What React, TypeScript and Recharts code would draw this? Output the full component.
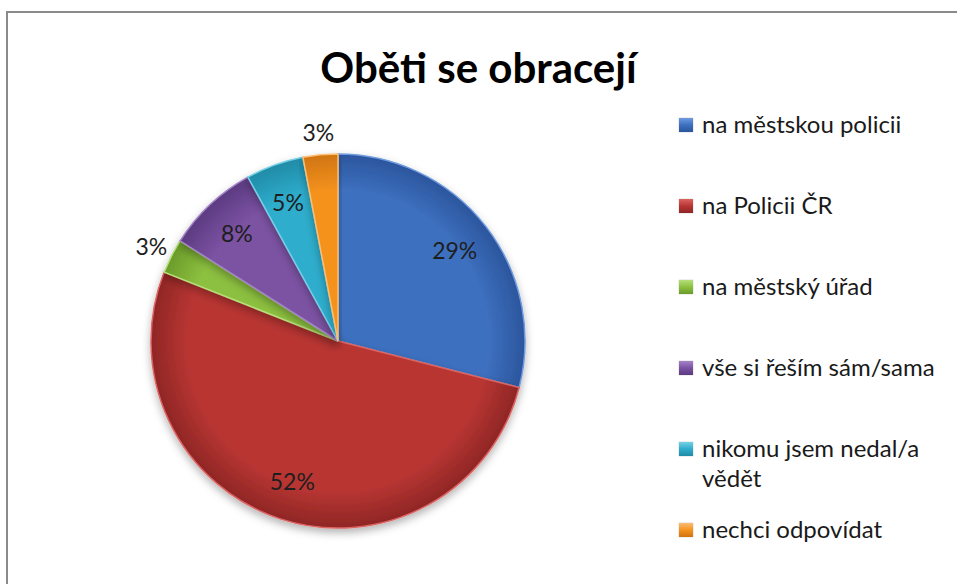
import { PieChart, Pie, Cell, Legend } from 'recharts';

// Oběti se obracejí — podíl odpovědí v procentech
const categories = [
  'na městskou policii',
  'na Policii ČR',
  'na městský úřad',
  'vše si řeším sám/sama',
  'nikomu jsem nedal/a vědět',
  'nechci odpovídat',
];
const values = [29, 52, 3, 8, 5, 3];
const colors = ['#3d70bf', '#b83532', '#8cc03f', '#7b52a3', '#2fadcc', '#f4921f'];
const lightColors = ['#6f9ae0', '#dc6461', '#b5e07a', '#a383c8', '#74d0e6', '#fbbd72'];
const darkColors = ['#2b559c', '#8e2625', '#6a9a2a', '#5b3a80', '#1f8aa6', '#cf7410'];

const data = categories.map((name, i) => ({ name, value: values[i] }));

const RADIAN = Math.PI / 180;
const FONT = 'Lato, "Open Sans", sans-serif';

function renderLabel(props: any) {
  const { cx, cy, midAngle, outerRadius, value } = props;
  const r = value < 4 ? outerRadius * 1.12 : outerRadius * 0.79;
  const x = cx + r * Math.cos(-midAngle * RADIAN);
  const y = cy + r * Math.sin(-midAngle * RADIAN);
  return (
    <text
      x={x}
      y={y}
      fill="#1e1e1e"
      fontFamily={FONT}
      fontSize={23}
      textAnchor="middle"
      dominantBaseline="central"
    >
      {value}%
    </text>
  );
}

function renderLegend() {
  return (
    <div style={{ fontFamily: FONT, fontSize: 24, color: '#1a1a1a' }}>
      {categories.map((name, i) => (
        <div key={name} style={{ display: 'flex', alignItems: 'flex-start', height: 81 }}>
          <div
            style={{
              width: 14,
              height: 14,
              marginTop: 9,
              marginRight: 9,
              flex: 'none',
              background: `linear-gradient(${lightColors[i]}, ${colors[i]} 50%, ${darkColors[i]})`,
              boxShadow: '0 0 1px rgba(0,0,0,0.4)',
            }}
          />
          <div style={{ width: 250, lineHeight: '30px' }}>{name}</div>
        </div>
      ))}
    </div>
  );
}

export default function App() {
  return (
    <div style={{ position: 'absolute', left: 0, top: 0, width: 957, height: 584, background: '#fff', overflow: 'hidden' }}>
      <div
        style={{
          position: 'absolute',
          left: 6,
          top: 11,
          width: 1000,
          height: 700,
          border: '2px solid #8a8a8a',
          boxSizing: 'border-box',
        }}
      />
      <div
        style={{
          position: 'absolute',
          left: 0,
          top: 42,
          width: 957,
          textAlign: 'center',
          fontFamily: FONT,
          fontWeight: 700,
          fontSize: 42,
          color: '#000',
        }}
      >
        Oběti se obracejí
      </div>
      <div style={{ position: 'absolute', left: 0, top: 0 }}>
        <PieChart width={957} height={584} margin={{ top: 0, right: 0, bottom: 0, left: 0 }}>
          <defs>
            {colors.map((c, i) => (
              <radialGradient key={c} id={`g${i}`} cx={338} cy={341} r={188} gradientUnits="userSpaceOnUse">
                <stop offset="0%" stopColor={colors[i]} />
                <stop offset="80%" stopColor={colors[i]} />
                <stop offset="100%" stopColor={darkColors[i]} />
              </radialGradient>
            ))}
            <filter id="shadow" x="-10%" y="-10%" width="120%" height="125%">
              <feDropShadow dx="0" dy="4" stdDeviation="4" floodColor="#000" floodOpacity="0.3" />
            </filter>
          </defs>
          <Pie
            data={data}
            dataKey="value"
            nameKey="name"
            cx={338}
            cy={341}
            outerRadius={187}
            startAngle={90}
            endAngle={-270}
            label={renderLabel}
            labelLine={false}
            isAnimationActive={false}
            style={{ filter: 'url(#shadow)' }}
          >
            {data.map((d, i) => (
              <Cell key={d.name} fill={`url(#g${i})`} stroke={lightColors[i]} strokeWidth={1.5} />
            ))}
          </Pie>
          <Legend
            layout="vertical"
            align="right"
            verticalAlign="top"
            content={renderLegend}
            wrapperStyle={{ left: 679, top: 109, width: 275 }}
          />
        </PieChart>
      </div>
    </div>
  );
}
